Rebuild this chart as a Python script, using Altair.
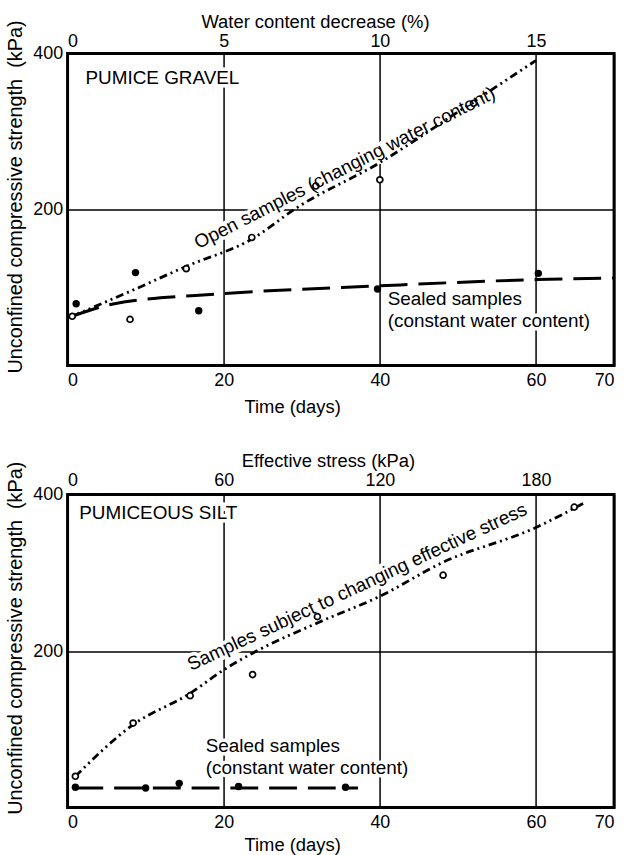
import altair as alt
import pandas as pd

FONT = "Liberation Sans"
NOTE_SIZE = 19
TICK_SIZE = 18
TITLE_SIZE = 18.5
Y_TITLE_SIZE = 20

# shared axes
day_ticks = [0, 20, 40, 60, 70]
kpa_ticks = [200, 400]
y_title = "Unconfined compressive strength\u00a0 (kPa)"

# ---- Pumice gravel ----
gravel_open_day = [0.6, 8.0, 15.2, 23.6, 31.8, 40.0, 52.0]
gravel_open_kpa = [63, 59, 124, 164, 230, 238, 336]
gravel_sealed_day = [1.1, 8.7, 16.8, 39.7, 60.3]
gravel_sealed_kpa = [79, 119, 70, 98, 118]
gravel_open_fit_day = [0.6, 8.7, 15.2, 23.6, 29.5, 40, 50, 60]
gravel_open_fit_kpa = [63, 98, 127, 162, 203, 260, 325, 391]
gravel_sealed_fit_day = [0.6, 6, 20, 40, 60, 70]
gravel_sealed_fit_kpa = [63, 79, 92, 102, 110, 112]
water_ticks = [0, 5, 10, 15]

# ---- Pumiceous silt ----
silt_open_day = [1.0, 8.4, 15.7, 23.7, 32.0, 48.1, 64.9]
silt_open_kpa = [40, 108, 143, 170, 244, 297, 384]
silt_sealed_day = [1.0, 10.0, 14.3, 21.9, 35.6]
silt_sealed_kpa = [26, 25, 31, 27, 26]
silt_open_fit_day = [1.0, 8.4, 15.7, 20, 24.2, 32, 40, 48, 60, 66.3]
silt_open_fit_kpa = [40, 106, 146, 176, 200, 236, 270, 313, 358, 390]
silt_sealed_fit_day = [1.0, 37.2]
silt_sealed_fit_kpa = [25, 25]
stress_ticks = [0, 60, 120, 180]


def panel(open_day, open_kpa, sealed_day, sealed_kpa,
          ofit_day, ofit_kpa, sfit_day, sfit_kpa,
          top_ticks, top_max, top_title, top_title_x, top_title_y,
          top_label_pad, bottom_title_pad, notes, curve_note, height):
    xs = alt.Scale(domain=[0, 70], nice=False, zero=False)
    ys = alt.Scale(domain=[0, 400], nice=False)
    x_axis = alt.Axis(values=day_ticks, title="Time (days)", grid=True,
                      gridColor="black", gridWidth=1.5, gridOpacity=1,
                      domain=False, ticks=False, labelPadding=6,
                      titleX=226, titlePadding=bottom_title_pad)
    y_axis = alt.Axis(values=kpa_ticks, title=y_title, grid=True,
                      gridColor="black", gridWidth=1.5, gridOpacity=1,
                      domain=False, ticks=False, labelPadding=5,
                      titleY=144, titlePadding=7,
                      titleFontSize=Y_TITLE_SIZE)
    X = alt.X("day:Q", scale=xs, axis=x_axis)
    Y = alt.Y("kpa:Q", scale=ys, axis=y_axis)

    def frame(d, k):
        return pd.DataFrame({"day": d, "kpa": k})

    note_df = pd.DataFrame(notes, columns=["day", "kpa", "text"])
    curve_df = pd.DataFrame([curve_note[:3]], columns=["day", "kpa", "text"])
    angle = curve_note[3]

    # white halo under the lettering hides the grid behind it
    note_halo = alt.Chart(note_df).mark_text(
        align="left", baseline="middle", font=FONT, fontSize=NOTE_SIZE,
        fill="white", stroke="white", strokeWidth=7
    ).encode(x=X, y=Y, text="text:N")
    curve_halo = alt.Chart(curve_df).mark_text(
        align="center", baseline="middle", font=FONT, fontSize=NOTE_SIZE,
        angle=angle, fill="white", stroke="white", strokeWidth=7
    ).encode(x=X, y=Y, text="text:N")

    open_fit = alt.Chart(frame(ofit_day, ofit_kpa)).mark_line(
        color="black", strokeWidth=2.8, strokeDash=[8, 4, 2, 4, 2, 4],
        interpolate="monotone"
    ).encode(x=X, y=Y, order="day:Q")
    sealed_fit = alt.Chart(frame(sfit_day, sfit_kpa)).mark_line(
        color="black", strokeWidth=3, strokeDash=[28, 11],
        interpolate="monotone"
    ).encode(x=X, y=Y, order="day:Q")
    open_pts = alt.Chart(frame(open_day, open_kpa)).mark_point(
        shape="circle", filled=False, color="black", fill="white",
        fillOpacity=1, size=36, strokeWidth=1.7, opacity=1
    ).encode(x=X, y=Y)
    sealed_pts = alt.Chart(frame(sealed_day, sealed_kpa)).mark_point(
        shape="circle", filled=True, color="black", size=55, opacity=1
    ).encode(x=X, y=Y)

    note_txt = alt.Chart(note_df).mark_text(
        align="left", baseline="middle", font=FONT, fontSize=NOTE_SIZE,
        color="black"
    ).encode(x=X, y=Y, text="text:N")
    curve_txt = alt.Chart(curve_df).mark_text(
        align="center", baseline="middle", font=FONT, fontSize=NOTE_SIZE,
        angle=angle, color="black"
    ).encode(x=X, y=Y, text="text:N")

    body = alt.layer(note_halo, curve_halo, open_fit, sealed_fit,
                     open_pts, sealed_pts, note_txt, curve_txt)

    top_axis = alt.Chart(pd.DataFrame({"v": top_ticks})).mark_point(
        opacity=0
    ).encode(
        x=alt.X("v:Q", scale=alt.Scale(domain=[0, top_max], nice=False),
                axis=alt.Axis(orient="top", values=top_ticks, title=top_title,
                              grid=False, domain=False, ticks=False,
                              labelPadding=top_label_pad,
                              titleX=top_title_x, titleY=top_title_y,
                              titleBaseline="alphabetic"))
    )

    return alt.layer(body, top_axis).resolve_scale(
        x="independent"
    ).properties(width=550, height=height)


gravel = panel(
    gravel_open_day, gravel_open_kpa, gravel_sealed_day, gravel_sealed_kpa,
    gravel_open_fit_day, gravel_open_fit_kpa,
    gravel_sealed_fit_day, gravel_sealed_fit_kpa,
    water_ticks, 17.5, "Water content decrease (%)", 249, -26, 3, 8,
    [(2.3, 369, "PUMICE GRAVEL"),
     (41.0, 85, "Sealed samples"),
     (41.0, 57, "(constant water content)")],
    (35.5, 253, "Open samples (changing water content)", 333),
    314,
)

silt = panel(
    silt_open_day, silt_open_kpa, silt_sealed_day, silt_sealed_kpa,
    silt_open_fit_day, silt_open_fit_kpa,
    silt_sealed_fit_day, silt_sealed_fit_kpa,
    stress_ticks, 210, "Effective stress (kPa)", 262, -28, 5, 4,
    [(1.5, 376, "PUMICEOUS SILT"),
     (17.7, 79, "Sealed samples"),
     (17.7, 50, "(constant water content)")],
    (37.1, 282, "Samples subject to changing effective stress", 335),
    315,
)

chart = alt.vconcat(gravel, silt, spacing=33).properties(
    padding={"left": 4, "top": 8, "right": 4, "bottom": 1}
).configure(
    background="white"
).configure_view(
    stroke="black", strokeWidth=3
).configure_axis(
    labelFont=FONT, titleFont=FONT, labelFontSize=TICK_SIZE,
    titleFontSize=TITLE_SIZE, titleFontWeight="normal",
    labelColor="black", titleColor="black"
)

chart.save("out.html", embed_options={"renderer": "svg", "actions": False})
